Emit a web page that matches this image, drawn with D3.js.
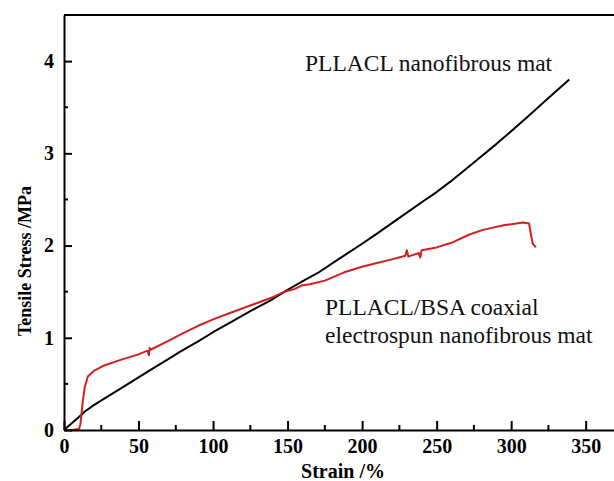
<!DOCTYPE html>
<html>
<head>
<meta charset="utf-8">
<script src="https://cdn.jsdelivr.net/npm/d3@7"></script>
<style>
  body { margin: 0; background: #fff; }
  svg { display: block; }
  svg text { font-family: 'Liberation Serif', 'Times New Roman', 'DejaVu Serif', serif; }
</style>
</head>
<body>
<svg id="chart" width="614" height="481"></svg>
<script>
'use strict';

// values
var pllaclStrain = [0, 5, 10, 14, 20, 27, 30, 39, 50, 60, 68, 78, 90, 100, 112, 125, 138, 150, 162, 170, 184, 200, 210, 225, 240, 250, 259, 275, 290, 300, 312, 325, 339];
var pllaclStress = [0, 0.07, 0.14, 0.20, 0.27, 0.34, 0.37, 0.46, 0.57, 0.67, 0.75, 0.85, 0.96, 1.06, 1.17, 1.29, 1.40, 1.52, 1.63, 1.70, 1.85, 2.02, 2.13, 2.30, 2.47, 2.58, 2.69, 2.90, 3.10, 3.24, 3.41, 3.60, 3.80];

var bsaStrain = [0, 5, 10, 11, 11.8, 12.5, 14, 16, 20, 27, 38, 50, 56, 57, 57.5, 58, 68, 80, 90, 100, 110, 120, 130, 140, 148, 155, 160, 165, 175, 188, 200, 210, 220, 229, 230, 231, 238, 239, 240, 250, 260, 272, 281, 295, 308, 312, 313.5, 314.5, 316.5];
var bsaStress = [0, 0, 0.01, 0.06, 0.18, 0.30, 0.47, 0.58, 0.64, 0.70, 0.76, 0.82, 0.86, 0.81, 0.89, 0.87, 0.95, 1.05, 1.13, 1.20, 1.26, 1.32, 1.38, 1.44, 1.50, 1.53, 1.57, 1.58, 1.62, 1.71, 1.77, 1.81, 1.85, 1.89, 1.95, 1.88, 1.92, 1.87, 1.95, 1.98, 2.03, 2.12, 2.17, 2.22, 2.25, 2.24, 2.10, 2.02, 1.98];

var xMajorTicks = [0, 50, 100, 150, 200, 250, 300, 350];
var xMinorTicks = [25, 75, 125, 175, 225, 275, 325];
var yMajorTicks = [0, 1, 2, 3, 4];
var yMinorTicks = [0.5, 1.5, 2.5, 3.5];

var xTitle = 'Strain /%';
var yTitle = 'Tensile Stress /MPa';
var labelTop = ['PLLACL nanofibrous mat'];
var labelBottom = ['PLLACL/BSA coaxial', 'electrospun nanofibrous mat'];

var svg = d3.select('#chart');

var x = d3.scaleLinear().domain([0, 369]).range([64, 614]);
var y = d3.scaleLinear().domain([0, 4.5]).range([430, 15]);

function zipPts(xs, ys) {
	return xs.map(function(v, i) { return [v, ys[i]]; });
}

var line = d3.line()
	.x(function(d) { return x(d[0]); })
	.y(function(d) { return y(d[1]); });

// curves
svg.append('path')
	.datum(zipPts(pllaclStrain, pllaclStress))
	.attr('fill', 'none')
	.attr('stroke', '#000')
	.attr('stroke-width', 2)
	.attr('stroke-linejoin', 'round')
	.attr('d', line);

svg.append('path')
	.datum(zipPts(bsaStrain, bsaStress))
	.attr('fill', 'none')
	.attr('stroke', '#d21f1f')
	.attr('stroke-width', 2)
	.attr('stroke-linejoin', 'round')
	.attr('d', line);

// x axis: ticks point inward
var xAxis = d3.axisBottom(x)
	.tickValues(xMajorTicks)
	.tickSizeInner(-9)
	.tickSizeOuter(0)
	.tickPadding(14)
	.tickFormat(d3.format('d'));

var gx = svg.append('g')
	.attr('transform', 'translate(0,' + y(0) + ')')
	.call(xAxis);

gx.selectAll('.minor').data(xMinorTicks)
	.enter().append('line')
	.attr('class', 'minor')
	.attr('x1', function(d) { return x(d); })
	.attr('x2', function(d) { return x(d); })
	.attr('y1', 0).attr('y2', -5);

var yAxis = d3.axisLeft(y)
	.tickValues(yMajorTicks)
	.tickSizeInner(-8)
	.tickSizeOuter(0)
	.tickPadding(10)
	.tickFormat(d3.format('d'));

var gy = svg.append('g')
	.attr('transform', 'translate(' + x(0) + ',0)')
	.call(yAxis);

gy.selectAll('.minor').data(yMinorTicks)
	.enter().append('line')
	.attr('class', 'minor')
	.attr('x1', 0).attr('x2', 4)
	.attr('y1', function(d) { return y(d); })
	.attr('y2', function(d) { return y(d); });

svg.selectAll('.domain, g line').attr('stroke', '#000').attr('stroke-width', 2);
svg.selectAll('.tick text')
	.attr('font-weight', 'bold')
	.attr('font-size', 20)
	.attr('fill', '#000');
gx.selectAll('.tick text').attr('dy', '0.45em');

// top frame line
svg.append('line')
	.attr('x1', x(0)).attr('x2', 614)
	.attr('y1', y(4.5)).attr('y2', y(4.5))
	.attr('stroke', '#000').attr('stroke-width', 2);

// axis titles
svg.append('text')
	.attr('x', 343).attr('y', 478)
	.attr('text-anchor', 'middle')
	.attr('font-weight', 'bold')
	.attr('font-size', 20)
	.text(xTitle);

svg.append('text')
	.attr('transform', 'translate(31,261) rotate(-90)')
	.attr('text-anchor', 'middle')
	.attr('font-weight', 'bold')
	.attr('font-size', 18)
	.text(yTitle);

// curve labels
svg.selectAll('.lab-top').data(labelTop)
	.enter().append('text')
	.attr('class', 'lab-top')
	.attr('x', 305)
	.attr('y', function(d, i) { return 71 + i * 28; })
	.attr('font-size', 23.5)
	.attr('fill', '#111')
	.text(function(d) { return d; });

svg.selectAll('.lab-bot').data(labelBottom)
	.enter().append('text')
	.attr('class', 'lab-bot')
	.attr('x', 325)
	.attr('y', function(d, i) { return 315 + i * 28; })
	.attr('font-size', 23.5)
	.attr('fill', '#111')
	.text(function(d) { return d; });
</script>
</body>
</html>
